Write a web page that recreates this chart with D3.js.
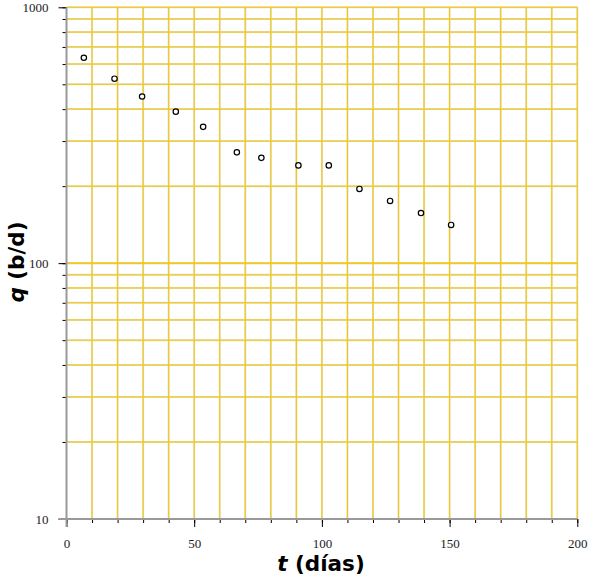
<!DOCTYPE html>
<html>
<head>
<meta charset="utf-8">
<script src="https://cdn.jsdelivr.net/npm/d3@7"></script>
<style>
  body { margin: 0; background: #fff; }
</style>
</head>
<body>
<svg id="my-svg"></svg>
<script>
// data
const tDias = [6.8, 18.8, 29.6, 42.8, 53.5, 66.7, 76.3, 90.8, 102.7, 114.7, 126.7, 138.8, 150.6];
const qBD = [635, 526, 448, 391, 341, 271, 258, 241, 241, 195, 175, 157, 141];
const xMajor = [0, 50, 100, 150, 200];
const yMajor = [10, 100, 1000];

const width = 589, height = 579;

const svg = d3.select("#my-svg")
    .attr("width", width)
    .attr("height", height);

const x = d3.scaleLinear()
    .domain([0, 200])
    .range([66.5, 577.3]);

const y = d3.scaleLog()
    .domain([10, 1000])
    .range([519, 7.3]);

const xMinor = d3.range(0, 201, 10);
const yMinor = [];
[10, 100].forEach(dec => {
    for (let k = 1; k <= 10; k++) yMinor.push(dec * k);
});

// grid: grey underlay then gold line
const grid = svg.append("g");
const vLines = xMinor.filter(v => v > 0);
const hLines = yMinor.filter(v => v > 10);

grid.selectAll(".vu").data(vLines).join("line")
    .attr("x1", d => x(d)).attr("x2", d => x(d))
    .attr("y1", y(1000)).attr("y2", y(10))
    .attr("stroke", "#e2dccb").attr("stroke-width", 2);
grid.selectAll(".hu").data(hLines).join("line")
    .attr("x1", x(0)).attr("x2", x(200))
    .attr("y1", d => y(d)).attr("y2", d => y(d))
    .attr("stroke", "#e2dccb").attr("stroke-width", 2);
grid.selectAll(".vg").data(vLines).join("line")
    .attr("x1", d => x(d)).attr("x2", d => x(d))
    .attr("y1", y(1000)).attr("y2", y(10))
    .attr("stroke", "#f5c800").attr("stroke-width", 1);
grid.selectAll(".hg").data(hLines).join("line")
    .attr("x1", x(0)).attr("x2", x(200))
    .attr("y1", d => y(d)).attr("y2", d => y(d))
    .attr("stroke", "#f5c800").attr("stroke-width", 1);

// axes
const xAxisMinor = svg.append("g")
    .attr("transform", `translate(0,${y(10)})`)
    .call(d3.axisBottom(x).tickValues(xMinor).tickSize(4).tickFormat(""));
const xAxis = svg.append("g")
    .attr("transform", `translate(0,${y(10)})`)
    .call(d3.axisBottom(x).tickValues(xMajor).tickSize(8).tickPadding(12).tickFormat(d3.format("d")));

const yAxisMinor = svg.append("g")
    .attr("transform", `translate(${x(0)},0)`)
    .call(d3.axisLeft(y).tickValues(yMinor).tickSize(4).tickFormat(""));
const yAxis = svg.append("g")
    .attr("transform", `translate(${x(0)},0)`)
    .call(d3.axisLeft(y).tickValues(yMajor).tickSize(8).tickPadding(10).tickFormat(d3.format("d")));

[xAxisMinor, xAxis, yAxisMinor, yAxis].forEach(a => {
    a.select(".domain").remove();
    a.selectAll(".tick line").attr("stroke", "#000");
    a.selectAll("text")
        .attr("fill", "#222")
        .style("font-family", "'Liberation Serif', serif")
        .style("font-size", "13px");
});

// axis lines (grey, extending past the corner)
svg.append("line")
    .attr("x1", x(0)).attr("x2", x(0))
    .attr("y1", y(1000)).attr("y2", y(10) + 8)
    .attr("stroke", "#999").attr("stroke-width", 2);
svg.append("line")
    .attr("x1", x(0) - 8).attr("x2", x(200))
    .attr("y1", y(10)).attr("y2", y(10))
    .attr("stroke", "#999").attr("stroke-width", 2);

// points
svg.append("g")
    .selectAll("circle")
    .data(tDias.map((t, i) => ({ t: t, q: qBD[i] })))
    .join("circle")
    .attr("cx", d => x(d.t))
    .attr("cy", d => y(d.q))
    .attr("r", 2.7)
    .attr("fill", "#fff")
    .attr("stroke", "#000")
    .attr("stroke-width", 1.2);

// axis titles
const xt = svg.append("text")
    .attr("x", 321)
    .attr("y", 571)
    .attr("text-anchor", "middle")
    .style("font-family", "'DejaVu Sans', sans-serif")
    .style("font-weight", "bold")
    .style("font-size", "21.5px");
xt.append("tspan").style("font-style", "italic").text("t");
xt.append("tspan").text(" (días)");

const yt = svg.append("text")
    .attr("transform", `translate(23.5,262) rotate(-90)`)
    .attr("text-anchor", "middle")
    .style("font-family", "'DejaVu Sans', sans-serif")
    .style("font-weight", "bold")
    .style("font-size", "21.5px");
yt.append("tspan").style("font-style", "italic").text("q");
yt.append("tspan").text(" (b/d)");
</script>
</body>
</html>
